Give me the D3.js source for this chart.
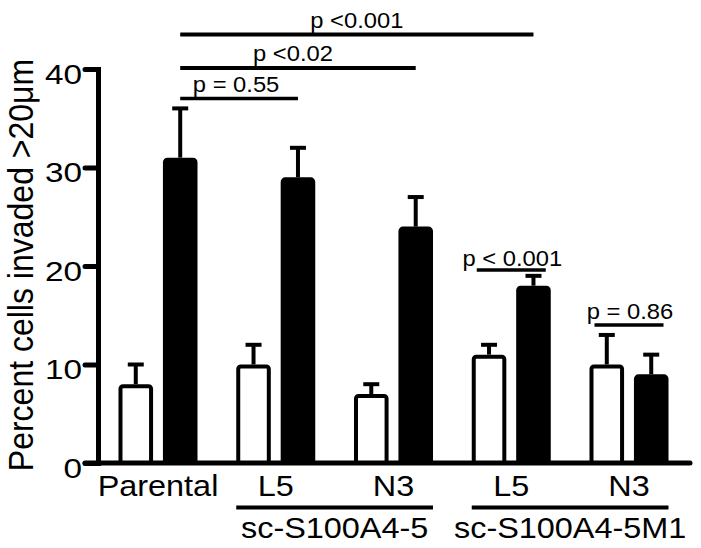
<!DOCTYPE html>
<html>
<head>
<meta charset="utf-8">
<script src="https://cdn.jsdelivr.net/npm/d3@7"></script>
<style>
  html, body { margin: 0; padding: 0; background: #fff; }
  svg { display: block; }
  text { font-family: "Liberation Sans", Arial, Helvetica, sans-serif; fill: #000; }
</style>
</head>
<body>
<svg id="chart" width="701" height="548"></svg>
<script>
// ---------- data ----------
const categories = ["Parental", "L5", "N3", "L5", "N3"];
const groupIds   = ["g0", "g1", "g2", "g3", "g4"];
const seriesKeys = ["white", "black"];
const whiteValues = [8, 10, 7, 11, 10];
const whiteErrors = [2, 2, 1, 1, 3];
const blackValues = [31, 29, 24, 18, 9];
const blackErrors = [5, 3, 3, 1, 2];
const yTicks = [0, 10, 20, 30, 40];
const yLabel = "Percent cells invaded >20\u03bcm";

// significance brackets spanning black bars of two groups
const sigLabels = ["p <0.001", "p <0.02", "p = 0.55"];
const sigFrom   = ["g0", "g0", "g0"];
const sigTo     = ["g3", "g2", "g1"];
const sigLevel  = [43.5, 40.1, 37.0];
// within-group comparisons
const localLabels = ["p < 0.001", "p = 0.86"];
const localGroups = ["g3", "g4"];
const localLevel  = [19.6, 14.0];
// cell-line group labels
const clusterLabels = ["sc-S100A4-5", "sc-S100A4-5M1"];
const clusterFrom   = ["g1", "g3"];
const clusterTo     = ["g2", "g4"];

// ---------- layout ----------
const FONT = "'Liberation Sans', Arial, Helvetica, sans-serif";
const SX = 1.08;      // horizontal glyph stretch seen in the original figure
const SX_TICK = 1.17; // tick numerals appear wider still
const svg = d3.select("#chart");
const axisX = 98, axisY = 463;

const x0 = d3.scaleBand().domain(groupIds).range([97, 690])
  .paddingInner(0.329).paddingOuter(0.1825);
const x1 = d3.scaleBand().domain(seriesKeys).range([0, x0.bandwidth()])
  .paddingInner(0.222);
const y = d3.scaleLinear().domain([0, 40]).range([463, 69]);

const rows = groupIds.map((g, i) => ({
  g, cat: categories[i],
  bars: [
    { key: "white", v: whiteValues[i], e: whiteErrors[i] },
    { key: "black", v: blackValues[i], e: blackErrors[i] }
  ]
}));

function txt(sel, size) {
  return sel.style("font-family", FONT).style("font-size", size + "px").style("fill", "#000");
}
function placed(parent, x, yy, size, label, anchor) {
  return txt(parent.append("text"), size)
    .attr("transform", `translate(${x},${yy}) scale(${SX},1)`)
    .attr("text-anchor", anchor || "middle")
    .text(label);
}

// ---------- bars ----------
const gBars = svg.append("g");
const sw = 4;
rows.forEach(r => {
  r.bars.forEach(b => {
    const bx = x0(r.g) + x1(b.key);
    const bw = x1.bandwidth();
    const cx = bx + bw / 2;
    gBars.append("line")
      .attr("x1", cx).attr("x2", cx)
      .attr("y1", y(b.v)).attr("y2", y(b.v + b.e))
      .attr("stroke", "#000").attr("stroke-width", 4);
    gBars.append("line")
      .attr("x1", cx - 8).attr("x2", cx + 8)
      .attr("y1", y(b.v + b.e)).attr("y2", y(b.v + b.e))
      .attr("stroke", "#000").attr("stroke-width", 4);
    gBars.append("rect")
      .attr("x", bx + sw / 2)
      .attr("y", y(b.v) + sw / 2)
      .attr("width", bw - sw)
      .attr("height", y(0) - y(b.v) - sw / 2)
      .attr("rx", 2.5)
      .attr("fill", b.key === "white" ? "#fff" : "#000")
      .attr("stroke", "#000")
      .attr("stroke-width", sw)
      .attr("stroke-linejoin", "round");
  });
});

// ---------- y axis ----------
const yAxis = d3.axisLeft(y).tickValues(yTicks).tickSize(13).tickSizeOuter(0).tickPadding(4);
const gy = svg.append("g").attr("transform", `translate(${axisX},0)`).call(yAxis)
  .attr("font-size", 28.5).attr("font-family", FONT);
gy.select(".domain").attr("stroke", "#000").attr("stroke-width", 5)
  .attr("stroke-linecap", "square");
gy.selectAll(".tick line").attr("stroke", "#000").attr("stroke-width", 5)
  .attr("stroke-linecap", "round");
txt(gy.selectAll(".tick text"), 28.5)
  .attr("x", 0)
  .attr("dy", "0.5em")
  .attr("transform", `translate(-16,0) scale(${SX_TICK},1)`);

// y label
txt(svg.append("text"), 32)
  .attr("transform", `translate(33,265) scale(${SX},1) rotate(-90)`)
  .attr("text-anchor", "middle")
  .text(yLabel);

// ---------- x axis ----------
const xAxis = d3.axisBottom(x0).tickSize(0).tickPadding(12)
  .tickFormat((d, i) => categories[i]);
const gx = svg.append("g").attr("transform", `translate(0,${axisY})`).call(xAxis)
  .attr("font-size", 30).attr("font-family", FONT);
gx.select(".domain").remove();
txt(gx.selectAll(".tick text"), 30)
  .attr("transform", `scale(${SX},1)`);
svg.append("line")
  .attr("x1", axisX - 13).attr("x2", 690)
  .attr("y1", axisY).attr("y2", axisY)
  .attr("stroke", "#000").attr("stroke-width", 5)
  .attr("stroke-linecap", "round");

// ---------- cluster labels ----------
clusterLabels.forEach((lab, i) => {
  const xa = x0(clusterFrom[i]) + x1("white");
  const xb = x0(clusterTo[i]) + x1("black") + x1.bandwidth();
  svg.append("line")
    .attr("x1", xa).attr("x2", xb)
    .attr("y1", 507.5).attr("y2", 507.5)
    .attr("stroke", "#000").attr("stroke-width", 4);
  placed(svg, (xa + xb) / 2, 538, 30, lab);
});

// ---------- significance brackets ----------
const blackCenter = g => x0(g) + x1("black") + x1.bandwidth() / 2;
const sigDx = [0, -5, -3];
sigLabels.forEach((lab, i) => {
  const xa = blackCenter(sigFrom[i]);
  const xb = blackCenter(sigTo[i]);
  const ly = y(sigLevel[i]);
  svg.append("line")
    .attr("x1", xa).attr("x2", xb)
    .attr("y1", ly).attr("y2", ly)
    .attr("stroke", "#000").attr("stroke-width", i === 2 ? 3.5 : 4);
  placed(svg, (xa + xb) / 2 + sigDx[i], ly - 7, 22, lab);
});

localLabels.forEach((lab, i) => {
  const cx = x0(localGroups[i]) + x0.bandwidth() / 2;
  const ly = y(localLevel[i]);
  svg.append("line")
    .attr("x1", cx - 34.5).attr("x2", cx + 34.5)
    .attr("y1", ly).attr("y2", ly)
    .attr("stroke", "#000").attr("stroke-width", 3.5);
  placed(svg, cx + 1, ly - (i === 0 ? 4 : 6), 22, lab);
});
</script>
</body>
</html>
